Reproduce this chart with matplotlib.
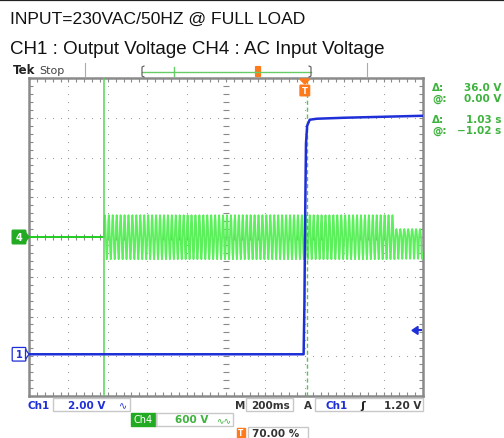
import numpy as np
import matplotlib.pyplot as plt
from matplotlib.patches import Rectangle, FancyBboxPatch, Polygon

# scope settings
CH1_VOLTS_PER_DIV = 2.0
CH4_VOLTS_PER_DIV = 600.0
SEC_PER_DIV = 0.2
T_START = -1.4            # left edge of the screen, s (trigger at 70 %)
CH1_GROUND_DIV = -2.95
CH4_GROUND_DIV = 0.0

# CH1 output voltage (time s, volts)
ch1_t = [-1.4, -0.006, -0.002, 0.002, 0.006, 0.012, 0.025, 0.06, 0.2, 0.4, 0.6]
ch1_v = [0.0, 0.0, 2.5, 7.0, 10.6, 11.5, 11.8, 11.85, 11.9, 11.95, 12.0]

# CH4 AC input voltage
ac_on_t = -1.02           # mains switched on
ac_end_t = 0.46           # last part of the record looks clipped on top
ac_period = 0.02          # 50 Hz
ac_cycle_v = [0, 235, 330, 235, 0, -235, -335, -235]
ac_end_cycle_v = [0, 90, 120, 90, 0, -235, -330, -235]

# cursors and trigger
cursor1_t = -1.02
cursor2_t = 0.01
trig_level_v = 1.20

readouts = [("\u0394:", "36.0 V", 88), ("@:", "0.00 V", 99),
            ("\u0394:", "1.03 s", 120), ("@:", "\u22121.02 s", 131)]

BLUE = "#1f2fd8"
GREEN = "#5cf05c"
GREEN_TXT = "#3db33d"
ORANGE = "#ff7a1a"
GRAY = "#8a8a8a"


def t_to_div(t):
    return (np.asarray(t) - T_START) / SEC_PER_DIV


fig = plt.figure(figsize=(5.04, 4.39), dpi=100)

# graticule area in pixels: x 29..423, y 79..397
L, R, T, B = 29, 423, 79, 397
ax = fig.add_axes([L / 504, 1 - B / 439, (R - L) / 504, (B - T) / 439])
ax.set_xlim(0, 10)
ax.set_ylim(-4, 4)
for s in ax.spines.values():
    s.set_color(GRAY)
    s.set_linewidth(1.8)
ax.set_xticks(np.arange(0, 10.01, 0.2))
ax.set_yticks(np.arange(-4, 4.01, 0.2))
ax.tick_params(direction="in", length=3, width=0.8, color=GRAY,
               top=True, right=True, labelbottom=False, labelleft=False)

# dotted grid
fine = np.arange(0, 10.01, 0.2)
for i in range(1, 10):
    yy = np.arange(-4, 4.01, 0.2)
    ax.scatter(np.full_like(yy, i), yy, s=0.7, color="#9a9a9a", zorder=1, lw=0)
for j in range(-3, 4):
    ax.scatter(fine, np.full_like(fine, j), s=0.7, color="#9a9a9a", zorder=1, lw=0)
# centre cross with small ticks
ax.plot(np.full(41, 5.0), np.arange(-4, 4.01, 0.2), ls="none", marker="_",
        ms=4, color=GRAY, mew=0.8, zorder=1)
ax.plot(np.arange(0, 10.01, 0.2), np.zeros(51), ls="none", marker="|",
        ms=4, color=GRAY, mew=0.8, zorder=1)

# CH4 trace
ax.plot(t_to_div([T_START, ac_on_t]), [CH4_GROUND_DIV] * 2, color="#22cc22", lw=1.4, zorder=3)
n_main = int(round((ac_end_t - ac_on_t) / ac_period))
n_end = int(round((0.6 - ac_end_t) / ac_period))
v_ac = np.concatenate([np.tile(ac_cycle_v, n_main), np.tile(ac_end_cycle_v, n_end)])
t_ac = ac_on_t + np.arange(len(v_ac)) * ac_period / len(ac_cycle_v)
ax.plot(t_to_div(t_ac), CH4_GROUND_DIV + v_ac / CH4_VOLTS_PER_DIV,
        color=GREEN, lw=1.3, zorder=3)

# cursors
ax.axvline(t_to_div(cursor1_t), color="#55d455", lw=1.1, zorder=4)
ax.axvline(t_to_div(cursor2_t), color="#55c455", lw=1.0, ls=(0, (3, 2)), zorder=4)

# CH1 trace
ax.plot(t_to_div(ch1_t), CH1_GROUND_DIV + np.array(ch1_v) / CH1_VOLTS_PER_DIV,
        color=BLUE, lw=1.8, zorder=5)

# ---- screen furniture in pixel coordinates ----
ui = fig.add_axes([0, 0, 1, 1], zorder=3)
ui.set_xlim(0, 504)
ui.set_ylim(439, 0)
ui.axis("off")
ui.patch.set_alpha(0)

ui.plot([0, 504], [0.8, 0.8], color="#222222", lw=1.6)
title_font = ["Liberation Sans", "DejaVu Sans"]
ui.text(10, 19, "INPUT=230VAC/50HZ @ FULL LOAD", fontsize=12.6, family=title_font,
        va="center", ha="left", color="#111111")
ui.text(10, 49, "CH1 : Output Voltage CH4 : AC Input Voltage", fontsize=13.5,
        family=title_font, va="center", ha="left", color="#111111")

ui.text(13, 71, "Tek", fontsize=8.5, weight="bold", va="center", color="#222222")
ui.text(39, 71, "Stop", fontsize=8, va="center", color="#444444")

# record bar
for xx in (85, 367):
    ui.plot([xx, xx], [64, 78], color="#aaaaaa", lw=0.8)
ui.plot([142, 311], [72.5, 72.5], color="#66cc66", lw=1.0)
ui.plot([174, 174], [68, 77], color="#66cc66", lw=1.0)
for xx, d in ((142, 1), (311, -1)):
    ui.plot([xx + 2 * d, xx, xx, xx + 2 * d], [67, 68, 77, 78], color="#555555", lw=0.8)
ui.add_patch(FancyBboxPatch((256, 68), 4, 9, boxstyle="round,pad=0.4", fc=ORANGE, ec=ORANGE))

# trigger position marker
tx = L + t_to_div(0.0) * (R - L) / 10
ui.add_patch(Polygon([[tx - 5, 80], [tx + 5, 80], [tx, 85]], closed=True, fc=ORANGE, ec=ORANGE))
ui.add_patch(FancyBboxPatch((tx - 4, 87), 8, 9, boxstyle="round,pad=0.8", fc=ORANGE, ec=ORANGE))
ui.text(tx, 92, "T", fontsize=6, color="white", ha="center", va="center", weight="bold")

# channel ground markers
def y_px(div):
    return (T + B) / 2 - div * (B - T) / 8

g4 = y_px(CH4_GROUND_DIV)
ui.add_patch(FancyBboxPatch((13, g4 - 6), 12, 12, boxstyle="round,pad=0.8", fc="#22aa22", ec="#22aa22"))
ui.add_patch(Polygon([[25, g4 - 5], [29, g4], [25, g4 + 5]], closed=True, fc="#22aa22", ec="#22aa22"))
ui.text(19, g4, "4", fontsize=7, color="white", ha="center", va="center", weight="bold")
g1 = y_px(CH1_GROUND_DIV)
ui.add_patch(FancyBboxPatch((13, g1 - 6), 12, 12, boxstyle="round,pad=0.8", fc="white", ec=BLUE, lw=0.9))
ui.add_patch(Polygon([[25.5, g1 - 5], [29, g1], [25.5, g1 + 5]], closed=True, fc="white", ec=BLUE, lw=0.9))
ui.text(19, g1, "1", fontsize=7, color=BLUE, ha="center", va="center", weight="bold")

# trigger level arrow
ty = y_px(CH1_GROUND_DIV + trig_level_v / CH1_VOLTS_PER_DIV)
ui.add_patch(Polygon([[412, ty], [418, ty - 4], [418, ty + 4]], closed=True, fc=BLUE, ec=BLUE))
ui.plot([417, 421], [ty, ty], color=BLUE, lw=1.5)

# cursor readouts
for sym, val, yy in readouts:
    ui.text(432, yy, sym, fontsize=7.5, weight="bold", color=GREEN_TXT, va="center")
    ui.text(501, yy, val, fontsize=7.5, weight="bold", color=GREEN_TXT, va="center", ha="right")

# status line
box_kw = dict(fill=False, ec="#c8c8c8", lw=1.0)
ui.text(28, 406, "Ch1", fontsize=7.5, weight="bold", color=BLUE, va="center")
ui.add_patch(Rectangle((53, 399), 77, 13, **box_kw))
ui.text(105, 406, "%.2f V" % CH1_VOLTS_PER_DIV, fontsize=7.5, weight="bold", color=BLUE,
        va="center", ha="right")
ui.text(123, 406, "\u223f", fontsize=7, color=BLUE, va="center", ha="center")

ui.text(235, 406, "M", fontsize=7.5, weight="bold", color="#333333", va="center")
ui.add_patch(Rectangle((246, 399), 47, 13, **box_kw))
ui.text(270, 406, "%dms" % round(SEC_PER_DIV * 1000), fontsize=7.5, weight="bold",
        color="#333333", va="center", ha="center")
ui.text(304, 406, "A", fontsize=7.5, weight="bold", color="#333333", va="center")
ui.add_patch(Rectangle((315, 399), 108, 13, **box_kw))
ui.text(325, 406, "Ch1", fontsize=7.5, weight="bold", color=BLUE, va="center")
ui.text(363, 406, "\u0283", fontsize=8, weight="bold", color="#222222", va="center", ha="center")
ui.text(421, 406, "%.2f V" % trig_level_v, fontsize=7.5, weight="bold", color="#333333",
        va="center", ha="right")

ui.add_patch(Rectangle((131, 414), 25, 13, fc="#22aa22", ec="#22aa22"))
ui.text(143.5, 420.5, "Ch4", fontsize=7, color="white", va="center", ha="center")
ui.add_patch(Rectangle((156, 414), 77, 13, **box_kw))
ui.text(208, 420.5, "%d V" % CH4_VOLTS_PER_DIV, fontsize=7.5, weight="bold", color=GREEN_TXT,
        va="center", ha="right")
ui.text(224, 420.5, "\u223f\u223f", fontsize=6.5, color=GREEN_TXT, va="center", ha="center")

ui.add_patch(Rectangle((237, 429), 8, 10, fc=ORANGE, ec=ORANGE))
ui.text(241, 434, "T", fontsize=5.5, color="white", va="center", ha="center", weight="bold")
ui.add_patch(Rectangle((248, 428), 60, 13, **box_kw))
ui.text(252, 434, "70.00 %", fontsize=7.5, weight="bold", color="#333333", va="center")

fig.savefig("out.png", dpi=100)
